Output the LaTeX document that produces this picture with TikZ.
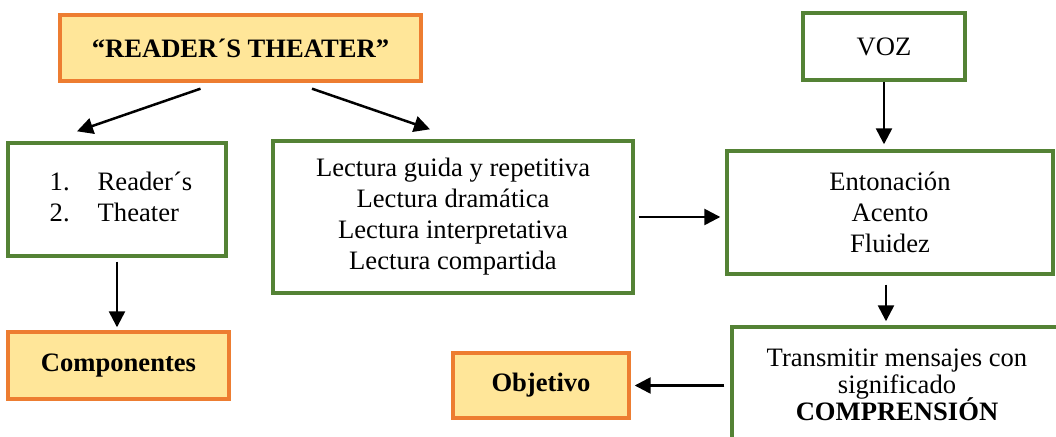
\documentclass[tikz,border=0pt]{standalone}
\usepackage{fontspec}
\setmainfont{Liberation Serif}
\usepackage{tikz}
\usetikzlibrary{arrows.meta}
\usepackage{xcolor}
\definecolor{boxgreen}{RGB}{84,130,53}
\definecolor{boxorange}{RGB}{237,125,49}
\definecolor{boxgold}{RGB}{255,230,153}
\tikzset{%
    greenbox/.style={%
        draw=boxgreen, line width=1.7pt, inner sep=0pt, align=center,
        font=\fontsize{13.3pt}{15.5pt}\selectfont
    },
    goldbox/.style={%
        draw=boxorange, fill=boxgold, line width=1.7pt, inner sep=0pt, align=center,
        font=\fontsize{13.3pt}{15.5pt}\selectfont\bfseries
    },
    arr/.style={-{Triangle[length=8pt,width=8pt]}, line width=1.25pt}
}

\begin{document}
\begin{tikzpicture}[x=0.5pt,y=-0.5pt]
    \clip (0,0) rectangle (1056,437);
    \node[goldbox, minimum width=180.5pt, minimum height=33pt] (title) at (240.5,48) {“READER´S THEATER”};
    \node[greenbox, minimum width=109pt, minimum height=56.5pt] (reader) at (117,199.5)
        {\begin{tabular}{@{\hspace{4pt}}p{24pt}@{}l@{}} 1. & Reader´s\\ 2. & Theater \end{tabular}};
    \node[goldbox, minimum width=110.5pt, minimum height=33.5pt] (comp) at (118.5,365.5) {Componentes};
    \node[greenbox, minimum width=180pt, minimum height=76pt] (lect) at (453,217)
        {Lectura guida y repetitiva\\ Lectura dramática\\ Lectura interpretativa\\ Lectura compartida};
    \node[greenbox, minimum width=81pt, minimum height=33.5pt] (voz) at (884,46.5) {VOZ};
    \node[greenbox, minimum width=163pt, minimum height=61.5pt] (enton) at (890,212.5)
        {Entonación\\ Acento\\ Fluidez};
    \node[greenbox, minimum width=165pt, minimum height=58pt,
        font={\fontsize{13.3pt}{13.5pt}\selectfont}] (trans) at (897,385)
        {Transmitir mensajes con\\ significado\\[-1.5pt] \textbf{COMPRENSIÓN}};
    \node[goldbox, minimum width=88pt, minimum height=32.5pt] (obj) at (541,385.5) {Objetivo};

    \draw[arr] ([shift={(-40,6)}]title.south) -- ([shift={(-40,-10)}]reader.north);
    \draw[arr] ([shift={(71.5,6)}]title.south) -- ([shift={(-23,-10)}]lect.north);
    \draw[arr, shorten <=2pt, shorten >=1.5pt] (reader.south) -- (reader.south |- comp.north);
    \draw[arr, shorten <=2pt, shorten >=2.5pt] (lect.east) -- (lect.east -| enton.west);
    \draw[arr, shorten >=2.5pt] (voz.south) -- (voz.south |- enton.north);
    \draw[arr, shorten <=4.5pt, shorten >=2pt] ([xshift=-2pt]enton.south) -- ([xshift=-2pt]enton.south |- trans.north);
    \draw[arr, shorten <=3pt, shorten >=2pt] (obj.east -| trans.west) -- (obj.east);
\end{tikzpicture}
\end{document}
